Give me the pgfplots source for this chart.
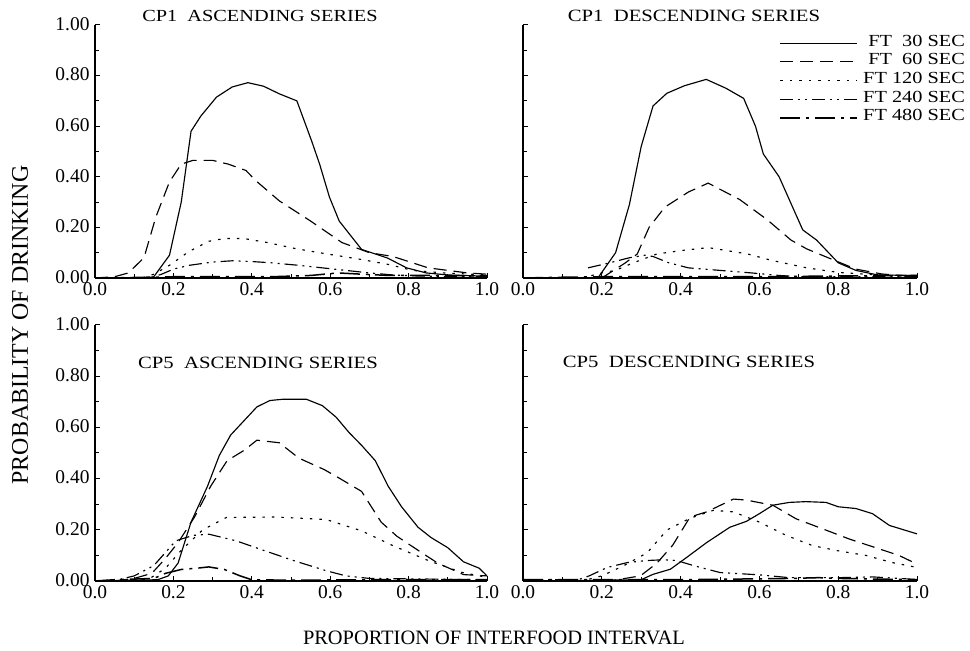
\documentclass[border=0pt]{standalone}
\usepackage{fontspec}
\setmainfont{Liberation Serif}
\newfontfamily\widefont[FakeStretch=1.2]{Liberation Serif}
\usepackage{pgfplots}
\pgfplotsset{compat=1.18}

\pgfplotsset{
  panel/.style={
    scale only axis,
    xmin=0, xmax=1, ymin=0, ymax=1,
    axis x line*=bottom, axis y line*=left,
    axis line style={line width=1.3bp, -},
    xtick={0,0.2,0.4,0.6,0.8,1.0},
    ytick={0,0.2,0.4,0.6,0.8,1.0},
    minor xtick={0.1,0.3,0.5,0.7,0.9},
    minor ytick={0.1,0.3,0.5,0.7,0.9},
    tick align=inside,
    major tick length=5bp, minor tick length=4bp,
    tick style={line width=1bp, black},
    xticklabel style={font=\fontsize{19.5}{21}\selectfont, yshift=-1.5bp,
      /pgf/number format/.cd, fixed, fixed zerofill, precision=1, assume math mode=true},
    yticklabel style={font=\fontsize{19.5}{21}\selectfont, xshift=-2bp, yshift=1bp,
      /pgf/number format/.cd, fixed, fixed zerofill, precision=2, assume math mode=true},
  },
  ft30/.style={black, line width=1.15bp, solid},
  ft60/.style={black, line width=1.15bp, dash pattern=on 13bp off 7bp},
  ft120/.style={black, line width=1.15bp, dash pattern=on 2.5bp off 7bp},
  ft240/.style={black, line width=1.15bp, dash pattern=on 13bp off 5bp on 2bp off 5bp on 2bp off 5bp},
  ft480/.style={black, line width=1.5bp, dash pattern=on 20bp off 6bp on 3bp off 6bp},
}

\begin{document}
\begin{tikzpicture}[x=1bp,y=1bp]
\path[use as bounding box] (0,0) rectangle (970,651);

% ---------------- top left: CP1 ascending
\begin{axis}[panel, at={(95bp,373bp)}, anchor=south west, width=392bp, height=253bp]
\addplot[ft30] coordinates {(0,0)(0.13,0)(0.15,0.005)(0.19,0.09)(0.22,0.30)(0.245,0.58)(0.27,0.64)(0.31,0.715)(0.35,0.755)(0.39,0.772)(0.43,0.758)(0.47,0.728)(0.515,0.70)(0.553,0.54)(0.573,0.45)(0.598,0.32)(0.623,0.225)(0.68,0.113)(0.746,0.079)(0.795,0.04)(0.845,0.02)(0.9,0.012)(1,0.007)};
\addplot[ft60] coordinates {(0,0)(0.05,0.005)(0.085,0.02)(0.125,0.08)(0.155,0.24)(0.19,0.38)(0.22,0.45)(0.25,0.465)(0.30,0.465)(0.34,0.45)(0.385,0.425)(0.41,0.385)(0.47,0.305)(0.55,0.225)(0.63,0.14)(0.70,0.10)(0.76,0.085)(0.80,0.065)(0.85,0.04)(0.90,0.03)(0.95,0.02)(1,0.015)};
\addplot[ft120] coordinates {(0,0)(0.12,0.0)(0.15,0.015)(0.19,0.05)(0.24,0.105)(0.29,0.145)(0.33,0.156)(0.38,0.156)(0.44,0.14)(0.515,0.115)(0.60,0.093)(0.68,0.073)(0.75,0.053)(0.81,0.03)(0.89,0.02)(1,0.012)};
\addplot[ft240] coordinates {(0,0)(0.14,0.0)(0.17,0.015)(0.20,0.035)(0.24,0.05)(0.30,0.063)(0.35,0.068)(0.40,0.065)(0.45,0.06)(0.52,0.05)(0.58,0.04)(0.64,0.03)(0.70,0.02)(0.76,0.012)(0.82,0.008)(0.90,0.005)(1,0.005)};
\addplot[ft480] coordinates {(0,0)(0.1,0.002)(0.2,0.005)(0.3,0.005)(0.45,0.005)(0.55,0.01)(0.62,0.02)(0.68,0.015)(0.75,0.01)(0.85,0.01)(1,0.008)};
\end{axis}

% ---------------- top right: CP1 descending
\begin{axis}[panel, at={(523bp,373bp)}, anchor=south west, width=394bp, height=253bp,
  yticklabels=\empty,
  legend style={at={(1.122,0.966)}, anchor=north east, draw=none, fill=none,
    font=\widefont\fontsize{17}{18.7}\selectfont, inner sep=0bp, row sep=0bp,
    column sep=5bp,
    nodes={inner sep=0bp, text height=12.4bp, text depth=6.3bp}},
  legend cell align=right,
  legend image code/.code={\draw[#1] (0bp,0bp) -- (77bp,0bp);}]
\addplot[ft30] coordinates {(0,0)(0.19,0.0)(0.235,0.10)(0.27,0.29)(0.30,0.52)(0.33,0.68)(0.365,0.73)(0.41,0.76)(0.465,0.785)(0.515,0.75)(0.56,0.71)(0.59,0.60)(0.61,0.49)(0.65,0.40)(0.71,0.19)(0.745,0.15)(0.80,0.06)(0.845,0.03)(0.90,0.012)(1,0.01)};
\addlegendentry{FT\ \ 30 SEC}
\addplot[ft60] coordinates {(0.20,0.0)(0.22,0.02)(0.26,0.06)(0.29,0.095)(0.32,0.20)(0.36,0.28)(0.42,0.34)(0.47,0.375)(0.55,0.31)(0.62,0.23)(0.68,0.15)(0.72,0.115)(0.79,0.07)(0.845,0.035)(0.91,0.016)(1,0.005)};
\addlegendentry{FT\ \ 60 SEC}
\addplot[ft120] coordinates {(0.15,0.0)(0.20,0.02)(0.235,0.03)(0.28,0.06)(0.34,0.095)(0.41,0.11)(0.47,0.12)(0.57,0.095)(0.63,0.07)(0.72,0.04)(0.80,0.022)(0.89,0.013)(1,0.005)};
\addlegendentry{FT 120 SEC}
\addplot[ft240] coordinates {(0.165,0.04)(0.22,0.06)(0.27,0.08)(0.31,0.09)(0.33,0.085)(0.37,0.06)(0.42,0.04)(0.50,0.03)(0.58,0.02)(0.65,0.01)(0.70,0.005)(1,0.005)};
\addlegendentry{FT 240 SEC}
\addplot[ft480] coordinates {(0,0)(0.1,0.003)(0.2,0.005)(0.4,0.005)(0.6,0.005)(0.8,0.008)(1,0.01)};
\addlegendentry{FT 480 SEC}
\end{axis}

% ---------------- bottom left: CP5 ascending
\begin{axis}[panel, at={(95bp,70bp)}, anchor=south west, width=392bp, height=256bp]
\addplot[ft30] coordinates {(0,0)(0.16,0.005)(0.187,0.02)(0.212,0.07)(0.245,0.23)(0.287,0.37)(0.317,0.49)(0.346,0.57)(0.413,0.68)(0.446,0.705)(0.48,0.71)(0.539,0.71)(0.58,0.685)(0.615,0.64)(0.648,0.58)(0.68,0.53)(0.715,0.47)(0.748,0.37)(0.782,0.29)(0.824,0.21)(0.857,0.17)(0.90,0.13)(0.94,0.075)(0.98,0.05)(1,0.02)};
\addplot[ft60] coordinates {(0,0)(0.05,0.0)(0.10,0.01)(0.145,0.03)(0.178,0.085)(0.212,0.15)(0.254,0.25)(0.295,0.37)(0.337,0.47)(0.38,0.51)(0.413,0.55)(0.47,0.54)(0.52,0.48)(0.585,0.435)(0.625,0.40)(0.68,0.35)(0.73,0.23)(0.77,0.175)(0.824,0.12)(0.874,0.07)(0.94,0.025)(1,0.02)};
\addplot[ft120] coordinates {(0,0)(0.1,0.0)(0.14,0.01)(0.18,0.05)(0.22,0.12)(0.275,0.20)(0.335,0.248)(0.46,0.25)(0.59,0.24)(0.68,0.196)(0.76,0.138)(0.85,0.08)(0.935,0.034)(1,0.014)};
\addplot[ft240] coordinates {(0,0)(0.06,0.005)(0.10,0.02)(0.15,0.06)(0.206,0.157)(0.25,0.178)(0.29,0.183)(0.36,0.157)(0.42,0.125)(0.506,0.08)(0.59,0.04)(0.64,0.02)(0.70,0.01)(1,0.005)};
\addplot[ft480] coordinates {(0,0)(0.05,0.005)(0.15,0.01)(0.18,0.03)(0.22,0.045)(0.26,0.05)(0.29,0.055)(0.33,0.045)(0.37,0.02)(0.40,0.005)(0.5,0.003)(0.7,0.005)(0.85,0.005)(1,0.005)};
\end{axis}

% ---------------- bottom right: CP5 descending
\begin{axis}[panel, at={(523bp,70bp)}, anchor=south west, width=394bp, height=256bp,
  yticklabels=\empty]
\addplot[ft30] coordinates {(0,0)(0.2,0.003)(0.3,0.005)(0.33,0.026)(0.374,0.046)(0.41,0.086)(0.466,0.15)(0.525,0.21)(0.567,0.233)(0.60,0.263)(0.634,0.296)(0.676,0.307)(0.718,0.31)(0.769,0.307)(0.80,0.29)(0.845,0.283)(0.887,0.263)(0.93,0.217)(1,0.184)};
\addplot[ft60] coordinates {(0,0)(0.22,0.0)(0.298,0.02)(0.34,0.07)(0.38,0.14)(0.424,0.25)(0.466,0.27)(0.534,0.32)(0.567,0.316)(0.634,0.296)(0.693,0.243)(0.76,0.204)(0.828,0.164)(0.895,0.13)(0.954,0.10)(1,0.066)};
\addplot[ft120] coordinates {(0,0)(0.15,0.0)(0.20,0.02)(0.256,0.06)(0.315,0.11)(0.366,0.20)(0.424,0.245)(0.483,0.276)(0.534,0.27)(0.60,0.23)(0.668,0.178)(0.735,0.138)(0.80,0.118)(0.87,0.10)(0.937,0.072)(1,0.053)};
\addplot[ft240] coordinates {(0,0.005)(0.1,0.005)(0.14,0.005)(0.168,0.02)(0.214,0.053)(0.265,0.072)(0.315,0.08)(0.357,0.083)(0.39,0.08)(0.433,0.06)(0.50,0.033)(0.60,0.024)(0.676,0.013)(0.80,0.013)(0.887,0.016)(1,0.006)};
\addplot[ft480] coordinates {(0,0.005)(0.2,0.005)(0.4,0.005)(0.68,0.01)(0.75,0.013)(0.8,0.01)(1,0.005)};
\end{axis}

% ---------------- titles and axis labels
\node[font=\widefont\fontsize{17}{19}\selectfont] at (260,635) {CP1\hspace{0.6em}ASCENDING SERIES};
\node[font=\widefont\fontsize{17.3}{19}\selectfont] at (694,635) {CP1\hspace{0.6em}DESCENDING SERIES};
\node[font=\widefont\fontsize{17.3}{19}\selectfont] at (258,288) {CP5\hspace{0.6em}ASCENDING SERIES};
\node[font=\widefont\fontsize{17.3}{19}\selectfont] at (689,289) {CP5\hspace{0.6em}DESCENDING SERIES};
\node[font=\fontsize{20.5}{22}\selectfont] at (494,13) {PROPORTION OF INTERFOOD INTERVAL};
\node[font=\fontsize{24}{26}\selectfont, rotate=90] at (20,326) {PROBABILITY OF DRINKING};
\end{tikzpicture}
\end{document}
